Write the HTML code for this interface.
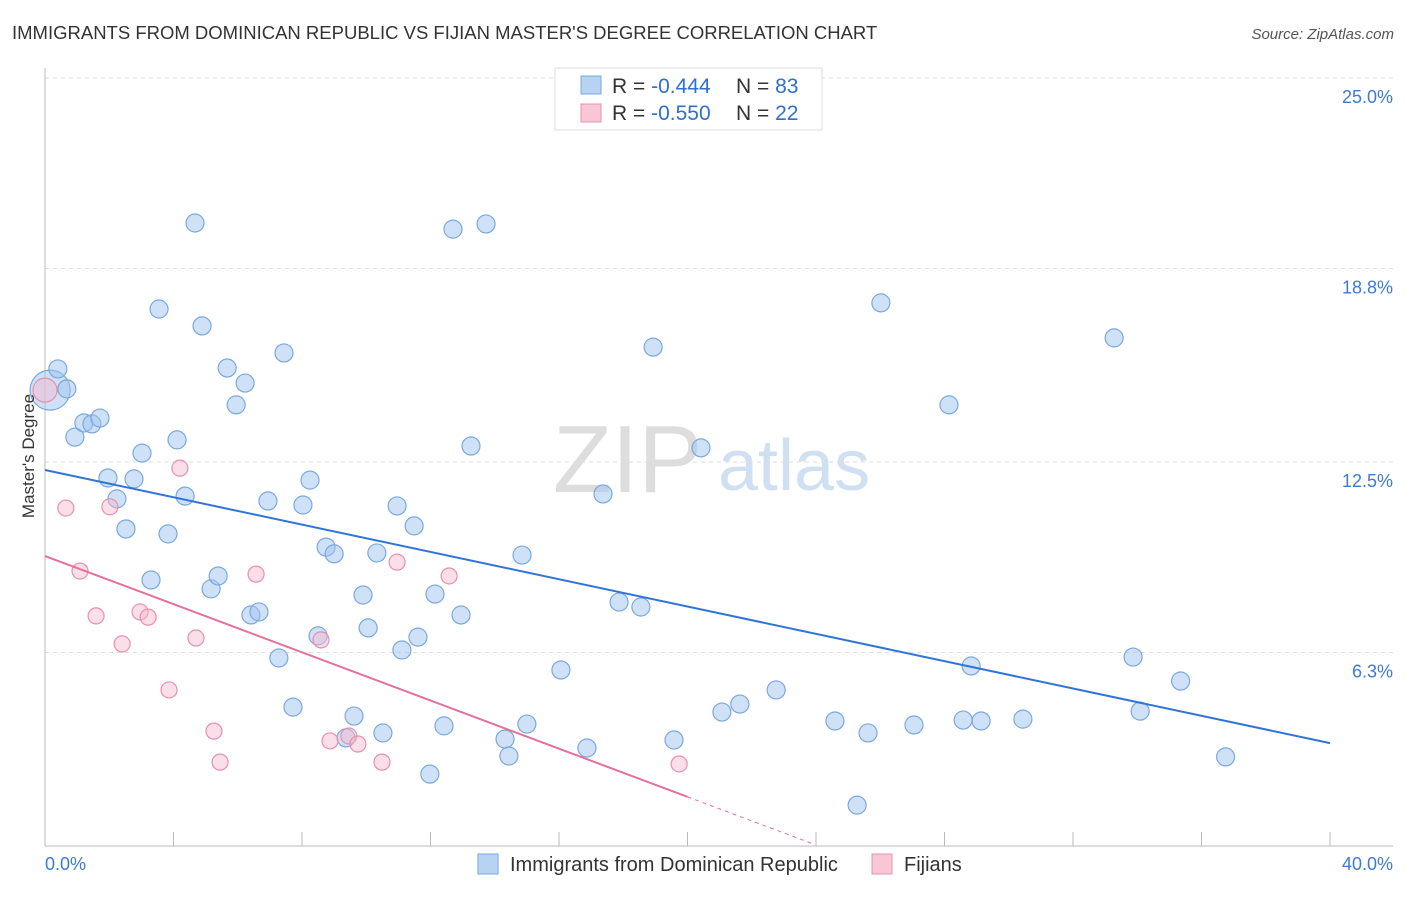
<!DOCTYPE html>
<html><head><meta charset="utf-8">
<style>
body{margin:0;background:#fff;font-family:"Liberation Sans",sans-serif;}
svg text{font-family:"Liberation Sans",sans-serif;}
</style></head>
<body>
<svg id="chart" width="1406" height="892" xmlns="http://www.w3.org/2000/svg">
<text x="12" y="39" font-size="18.5" fill="#333">IMMIGRANTS FROM DOMINICAN REPUBLIC VS FIJIAN MASTER'S DEGREE CORRELATION CHART</text>
<text x="1394" y="39" font-size="15" fill="#555" text-anchor="end" font-style="italic">Source: ZipAtlas.com</text>
<text x="553" y="492" font-size="96" fill="#ddd" font-family="Liberation Serif">ZIP</text>
<text x="718" y="490" font-size="72" fill="#cfe0f3">atlas</text>
<g id="grid"></g>
<g id="axes"></g>
<g id="points"></g>
<g id="lines"></g>
<text x="34" y="456" font-size="17" fill="#333" text-anchor="middle" transform="rotate(-90 34 456)">Master's Degree</text>
<g>
<rect x="555" y="68" width="267" height="62" fill="#fff" stroke="#ddd"/>
<rect x="581" y="76" width="20" height="18" fill="#b8d2f3" stroke="#7aa8e0"/>
<rect x="581" y="104" width="20" height="18" fill="#f9c6d5" stroke="#e890aa"/>
<text x="612" y="93" font-size="21" fill="#333">R = <tspan fill="#2f6fd0">-0.444</tspan></text>
<text x="736" y="93" font-size="21" fill="#333">N = <tspan fill="#2f6fd0">83</tspan></text>
<text x="612" y="120" font-size="21" fill="#333">R = <tspan fill="#2f6fd0">-0.550</tspan></text>
<text x="736" y="120" font-size="21" fill="#333">N = <tspan fill="#2f6fd0">22</tspan></text>
</g>
<g>
<rect x="478" y="854" width="20" height="20" fill="#b8d2f3" stroke="#7aa8e0"/>
<text x="510" y="871" font-size="20" fill="#333">Immigrants from Dominican Republic</text>
<rect x="872" y="854" width="20" height="20" fill="#f9c6d5" stroke="#e890aa"/>
<text x="904" y="871" font-size="20" fill="#333">Fijians</text>
</g>
</svg>
<script>
const yTicks=[25,18.8,12.5,6.3];
const yTickLabels=["25.0%","18.8%","12.5%","6.3%"];
const xTickLabels=["0.0%","40.0%"];
const blueX=[0.16,0.40,0.68,0.93,1.21,1.46,1.71,1.96,2.24,2.52,2.77,3.02,3.30,3.55,3.83,4.11,4.36,4.67,4.89,5.17,5.39,5.67,5.95,6.23,6.41,6.66,6.94,7.28,7.44,7.72,8.03,8.25,8.50,8.75,9.00,9.37,9.62,9.90,10.06,10.33,10.52,10.96,11.11,11.49,11.61,11.98,12.14,12.42,12.70,12.95,13.26,13.73,14.32,14.44,14.85,15.00,16.06,16.87,17.37,17.87,18.55,18.93,19.58,20.42,21.07,21.63,22.76,24.59,25.28,25.62,26.02,27.05,28.14,28.58,28.83,29.14,30.44,33.28,33.87,34.09,35.35,36.75];
const blueY=[14.84,15.53,14.88,13.31,13.77,13.74,13.93,11.98,11.30,10.32,11.95,12.79,8.66,17.48,10.16,13.22,11.39,20.28,16.93,8.37,8.79,15.56,14.36,15.07,7.52,7.62,11.23,6.12,16.05,4.52,11.10,11.91,6.84,9.73,9.51,3.52,4.23,8.17,7.10,9.54,3.68,11.07,6.38,10.42,6.80,2.34,8.20,3.91,20.08,7.52,13.02,20.25,3.48,2.93,9.47,3.97,5.73,3.19,11.46,7.94,7.78,16.24,3.45,12.96,4.36,4.62,5.08,4.07,1.33,3.68,17.68,3.94,14.36,4.10,5.86,4.07,4.13,16.54,6.15,4.39,5.37,2.90];
const pinkX=[0,0.65,1.09,1.59,2.02,2.40,2.96,3.21,3.86,4.20,4.70,5.26,5.45,6.57,8.59,8.87,9.46,9.74,10.49,10.96,12.58,19.74];
const pinkY=[14.84,11.00,8.95,7.49,11.04,6.58,7.62,7.45,5.08,12.30,6.77,3.74,2.73,8.85,6.71,3.42,3.58,3.32,2.73,9.24,8.79,2.67];
const blueFit=[12.24,3.35];
const pinkFit=[9.44,-0.392];
const X0=45,X1=1330,Y0=846,PY=30.72;
const xs=v=>X0+(X1-X0)*v/40;
const ys=v=>Y0-v*PY;
const NS="http://www.w3.org/2000/svg";
function mk(tag,attrs,parent){const e=document.createElementNS(NS,tag);for(const k in attrs)e.setAttribute(k,attrs[k]);document.getElementById(parent).appendChild(e);return e;}
yTicks.forEach((t,i)=>{
  const l=mk('line',{x1:X0,x2:1393,y1:ys(t),y2:ys(t),stroke:'#ddd','stroke-dasharray':'4 4'},'grid');
  
  
  const tx=mk('text',{x:1393,y:ys(t)+25,'font-size':18,fill:'#3d7ad6','text-anchor':'end'},'grid');
  tx.textContent=yTickLabels[i];
  
  
});
const ax=mk('line',{x1:X0,x2:X0,y1:68,y2:Y0,stroke:'#bbb'},'axes');


const bx=mk('line',{x1:X0,x2:1393,y1:Y0,y2:Y0,stroke:'#bbb'},'axes');


for(let v=4;v<=40;v+=4){
  const t=mk('line',{x1:xs(v),x2:xs(v),y1:Y0-14,y2:Y0,stroke:'#bbb'},'axes');
  
  
}
[[0,'start',45],[40,'end',1393]].forEach((d,i)=>{
  const t=mk('text',{x:d[2],y:870,'font-size':18,fill:'#3d7ad6','text-anchor':d[1]},'axes');
  t.textContent=xTickLabels[i];
  
  
});
blueX.forEach((x,i)=>{
  const c=mk('circle',{cx:xs(x),cy:ys(blueY[i]),r:i===0?20:9,fill:'rgba(160,196,240,0.5)',stroke:'#7aa8e0','stroke-width':1.2},'points');
  
  
});
pinkX.forEach((x,i)=>{
  const c=mk('circle',{cx:xs(x),cy:ys(pinkY[i]),r:i===0?12:8,fill:'rgba(246,184,203,0.45)',stroke:'#e890aa','stroke-width':1.2},'points');
  
  
});
const bl=mk('line',{x1:xs(0),y1:ys(blueFit[0]),x2:xs(40),y2:ys(blueFit[1]),stroke:'#2f74d8','stroke-width':2},'lines');


const pl=mk('line',{x1:xs(0),y1:ys(pinkFit[0]),x2:xs(20),y2:ys(pinkFit[0]+pinkFit[1]*20),stroke:'#e5719a','stroke-width':2},'lines');


const pd=mk('line',{x1:xs(20),y1:ys(pinkFit[0]+pinkFit[1]*20),x2:xs(23.9),y2:ys(pinkFit[0]+pinkFit[1]*23.9),stroke:'#e5719a','stroke-width':1,'stroke-dasharray':'4 4'},'lines');


</script>
</body></html>
